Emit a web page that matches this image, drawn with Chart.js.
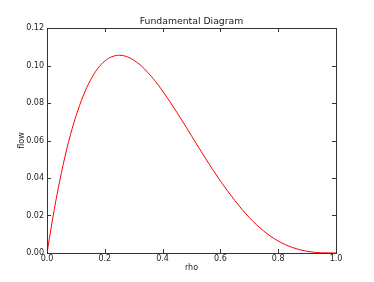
<!DOCTYPE html>
<html>
<head>
<meta charset="utf-8">
<script src="https://cdn.jsdelivr.net/npm/chart.js@4/dist/chart.umd.min.js"></script>
<style>
html,body{margin:0;padding:0;background:#fff;}
canvas{display:block;}
</style>
</head>
<body>
<canvas id="c" width="374" height="282"></canvas>
<script>
const rho  = [0, 0.025, 0.05, 0.075, 0.1, 0.125, 0.15, 0.175, 0.2, 0.225, 0.25, 0.275, 0.3, 0.325, 0.35, 0.375, 0.4, 0.45, 0.5, 0.55, 0.6, 0.65, 0.7, 0.75, 0.8, 0.85, 0.9, 0.95, 1.0];
const flow = [0, 0.0231, 0.0429, 0.0595, 0.0729, 0.0837, 0.0921, 0.0983, 0.1024, 0.1047, 0.1055, 0.1048, 0.1029, 0.1000, 0.0961, 0.0916, 0.0864, 0.0749, 0.0625, 0.0501, 0.0384, 0.0280, 0.0189, 0.0117, 0.0064, 0.0029, 0.0009, 0.0001, 0];
const xTicks = [0.0, 0.2, 0.4, 0.6, 0.8, 1.0];
const yTicks = [0.00, 0.02, 0.04, 0.06, 0.08, 0.10, 0.12];
const titleText = 'Fundamental Diagram';
const xLabel = 'rho';
const yLabel = 'flow';

const axisColor = '#333';
const font = "'DejaVu Sans', sans-serif";

const innerTicks = {
  id: 'innerTicks',
  afterDraw(chart) {
    const {ctx, chartArea: a, scales: {x, y}} = chart;
    ctx.save();
    ctx.strokeStyle = axisColor;
    ctx.lineWidth = 1;
    const L = 4;
    ctx.beginPath();
    xTicks.forEach(v => {
      const px = Math.round(x.getPixelForValue(v)) + 0.5;
      ctx.moveTo(px, a.bottom); ctx.lineTo(px, a.bottom - L);
      ctx.moveTo(px, a.top); ctx.lineTo(px, a.top + L);
    });
    yTicks.forEach(v => {
      const py = Math.round(y.getPixelForValue(v)) + 0.5;
      ctx.moveTo(a.left, py); ctx.lineTo(a.left + L, py);
      ctx.moveTo(a.right, py); ctx.lineTo(a.right - L, py);
    });
    ctx.stroke();
    ctx.strokeRect(Math.round(a.left) + 0.5, Math.round(a.top) + 0.5, Math.round(a.right - a.left), Math.round(a.bottom - a.top));
    // title centred over the plot area
    ctx.fillStyle = '#222';
    ctx.font = "9.3px " + font;
    ctx.textAlign = 'center';
    ctx.textBaseline = 'alphabetic';
    ctx.fillText(titleText, (a.left + a.right) / 2, a.top - 4);
    ctx.restore();
  }
};

new Chart(document.getElementById('c'), {
  type: 'line',
  data: {
    datasets: [{
      data: rho.map((r, i) => ({x: r, y: flow[i]})),
      borderColor: '#ff0000',
      borderWidth: 1,
      pointRadius: 0,
      fill: false,
      cubicInterpolationMode: 'monotone'
    }]
  },
  options: {
    responsive: false,
    animation: false,
    layout: {padding: {left: 0, right: 38, top: 28, bottom: 0}},
    plugins: {
      legend: {display: false},
      tooltip: {enabled: false},
      title: {display: false}
    },
    scales: {
      x: {
        type: 'linear',
        min: 0, max: 1,
        afterFit(s) { s.height = 29; },
        afterBuildTicks(s) { s.ticks = xTicks.map(v => ({value: v})); },
        grid: {display: false, drawTicks: false},
        border: {display: false},
        ticks: {
          color: '#222',
          font: {family: font, size: 8},
          padding: 1,
          maxRotation: 0,
          callback: v => Number(v).toFixed(1)
        },
        title: {
          display: true, text: xLabel, color: '#222',
          font: {family: font, size: 8},
          padding: {top: 0, bottom: 9}
        }
      },
      y: {
        type: 'linear',
        min: 0, max: 0.12,
        afterFit(s) { s.width = 47; },
        afterBuildTicks(s) { s.ticks = yTicks.map(v => ({value: v})); },
        grid: {display: false, drawTicks: false},
        border: {display: false},
        ticks: {
          color: '#222',
          font: {family: font, size: 8},
          padding: 3,
          callback: v => Number(v).toFixed(2)
        },
        title: {
          display: true, text: yLabel, color: '#222',
          font: {family: font, size: 8},
          padding: {top: 17, bottom: 0}
        }
      }
    }
  },
  plugins: [innerTicks]
});
</script>
</body>
</html>
